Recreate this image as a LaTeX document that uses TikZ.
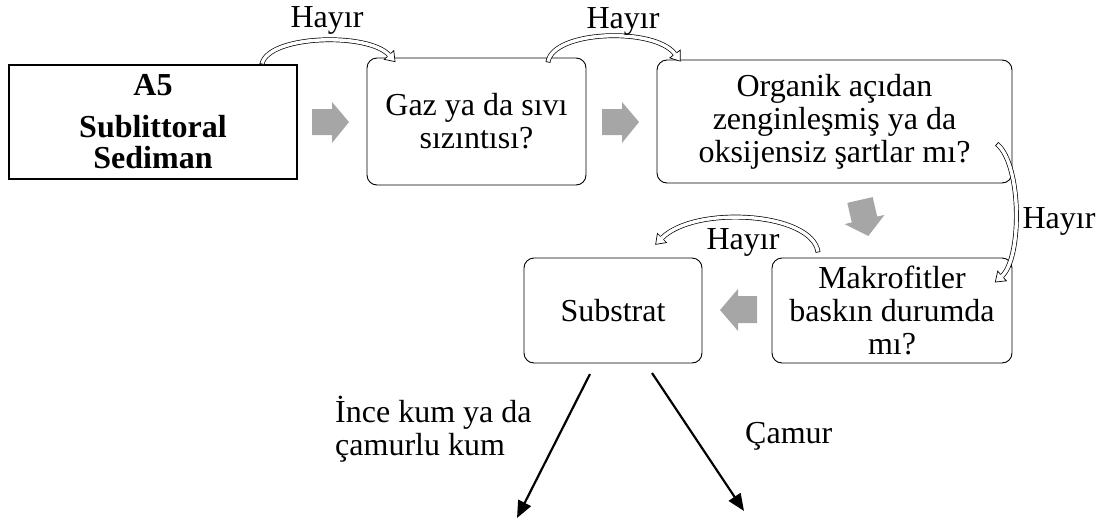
\documentclass[tikz,border=0pt]{standalone}
\usepackage{fontspec}
\setmainfont{Liberation Serif}
\usetikzlibrary{arrows.meta,calc}

\definecolor{blockgray}{RGB}{166,166,166}

\tikzset{
  txt/.style={font=\fontsize{32}{33}\selectfont, inner sep=0pt},
  stepbox/.style={txt, draw=black, line width=0.9pt, rounded corners=10pt,
                  align=center},
  startbox/.style={txt, draw=black, line width=1.1pt, align=center},
  band/.style={draw=black, line width=0.7pt, double=white,
               double distance=3.4pt},
  outline/.style={draw=black, line width=0.7pt, line join=miter},
  branch/.style={line width=2.2pt, -{Triangle[length=17pt,width=14pt]}}
}

% hollow curved arrow: start, first control, second control, end
\newcommand{\noarc}[4]{%
  \draw[band] (#1) .. controls (#2) and (#3) .. (#4);
  \draw[outline] ($(#1)!2.4pt!90:(#2)$) -- ($(#1)!2.4pt!-90:(#2)$);
  \fill[white] ($(#4)!6.5pt!90:(#3)$) -- ($(#4)!-9pt!(#3)$)
    -- ($(#4)!6.5pt!-90:(#3)$) -- cycle;
  \draw[outline] ($(#4)!2.05pt!90:(#3)$) -- ($(#4)!6.5pt!90:(#3)$)
    -- ($(#4)!-9pt!(#3)$) -- ($(#4)!6.5pt!-90:(#3)$)
    -- ($(#4)!2.05pt!-90:(#3)$);
}

\begin{document}
\begin{tikzpicture}[x=1pt, y=-1pt]
\useasboundingbox (0,0) rectangle (1109,520);

% decision boxes
\node[startbox, minimum width=288pt, minimum height=114pt] (a5) at (153,122)
  {\textbf{A5}\\[9pt]\textbf{Sublittoral}\\[-2pt]\textbf{Sediman}};
\node[stepbox, minimum width=219pt, minimum height=127pt] (gaz) at (476.5,121.5)
  {Gaz ya da sıvı\\sızıntısı?};
\node[stepbox, minimum width=355pt, minimum height=123pt] (org) at (834.5,121.5)
  {Organik açıdan\\zenginleşmiş ya da\\oksijensiz şartlar mı?};
\node[stepbox, minimum width=240pt, minimum height=105pt] (mak) at (892,310.5)
  {Makrofitler\\baskın durumda\\mı?};
\node[stepbox, minimum width=178pt, minimum height=105pt] (sub) at (613,310.5)
  {Substrat};

% grey process arrows
\fill[blockgray] (312,109) -- (332,109) -- (332,102) -- (349,122)
  -- (332,143) -- (332,135) -- (312,135) -- cycle;
\fill[blockgray] (602,109) -- (622,109) -- (622,102) -- (639,122)
  -- (622,143) -- (622,135) -- (602,135) -- cycle;
\fill[blockgray] (847.3,202.9) -- (872.7,197.1) -- (877.2,216.6)
  -- (884.5,214.9) -- (868.3,236.0) -- (844.5,224.1) -- (851.8,222.4) -- cycle;
\fill[blockgray] (757,296) -- (738,296) -- (738,289) -- (720,310)
  -- (738,331) -- (738,323) -- (757,323) -- cycle;

% "no" branches
\coordinate (h1s) at (262,64);  \coordinate (h1a) at (268,35);
\coordinate (h1b) at (368,32);  \coordinate (h1e) at (389,55);
\coordinate (h2s) at (548,62);  \coordinate (h2a) at (553,30);
\coordinate (h2b) at (655,27);  \coordinate (h2e) at (675,54);
\coordinate (h3s) at (997,144); \coordinate (h3a) at (1022,165);
\coordinate (h3b) at (1022,258);\coordinate (h3e) at (1002,276);
\coordinate (h4s) at (818,252); \coordinate (h4a) at (812,212);
\coordinate (h4b) at (695,205); \coordinate (h4e) at (662,238);
\noarc{h1s}{h1a}{h1b}{h1e}
\noarc{h2s}{h2a}{h2b}{h2e}
\noarc{h3s}{h3a}{h3b}{h3e}
\noarc{h4s}{h4a}{h4b}{h4e}

\node[txt] (no1) at (327,20) {Hayır};
\node[txt] (no2) at (623,21) {Hayır};
\node[txt] (no3) at (1059,221) {Hayır};
\node[txt] (no4) at (743,242) {Hayır};

% substrate outcomes
\coordinate (fineS) at (590,374); \coordinate (fineE) at (517,518);
\coordinate (mudS) at (652,373);  \coordinate (mudE) at (744,511);
\draw[branch] (fineS) -- (fineE);
\draw[branch] (mudS) -- (mudE);

\node[txt, anchor=west, align=left] (fine) at (335,429)
  {İnce kum ya da\\çamurlu kum};
\node[txt, anchor=west] (mud) at (745,436) {Çamur};
\end{tikzpicture}
\end{document}
